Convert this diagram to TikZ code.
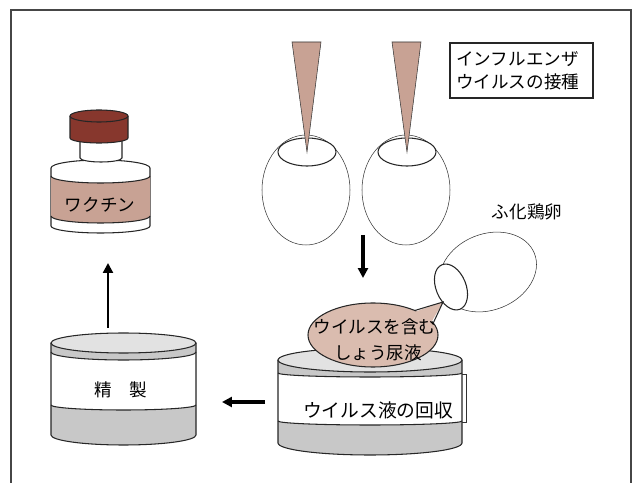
\documentclass[tikz,border=0pt]{standalone}
\usepackage{fontspec}
\setmainfont{Noto Sans CJK JP}
\usetikzlibrary{arrows.meta, calc}

\definecolor{capred}{RGB}{135,55,45}
\definecolor{labeltan}{RGB}{200,162,148}
\definecolor{bubbletan}{RGB}{218,188,175}
\definecolor{drumgray}{RGB}{200,200,200}
\definecolor{lidgray}{RGB}{226,226,226}
\definecolor{framegray}{RGB}{70,70,70}

\begin{document}
\begin{tikzpicture}[x=0.03cm, y=-0.03cm,
    outline/.style={draw=black!85, line width=0.9pt},
    thinline/.style={draw=black!80, line width=0.45pt},
    flow/.style={line width=2.8pt, -{Triangle[length=8.5pt, width=8.5pt]}},
    txt/.style={font=\fontsize{15}{19.5}\selectfont, inner sep=0pt}]

    \useasboundingbox (0,0) rectangle (633,483);
    \draw[framegray, line width=1.3pt] (11,495) -- (11,10) -- (631,10) -- (631,495);

    \coordinate (vial bottom) at (108,263);
    \coordinate (purify top) at (108,328);
    \coordinate (collect left) at (265,402);
    \coordinate (purify right) at (222,402);
    \coordinate (eggs below) at (363,235);
    \coordinate (bubble above) at (363,278);

    % vaccine vial
    \path[fill=white, outline] (51,168) -- (51,226)
        arc[start angle=180, end angle=0, x radius=49.5, y radius=7] -- (150,168);
    \fill[labeltan] (51,176) arc[start angle=180, end angle=0, x radius=49.5, y radius=7]
        -- (150,216) arc[start angle=0, end angle=180, x radius=49.5, y radius=7] -- cycle;
    \draw[outline] (51,176) arc[start angle=180, end angle=0, x radius=49.5, y radius=7];
    \draw[outline] (51,216) arc[start angle=180, end angle=0, x radius=49.5, y radius=7];
    \draw[outline] (51,168) arc[start angle=180, end angle=360, x radius=49.5, y radius=8];
    \path[fill=white, outline] (80,140) -- (80,158)
        arc[start angle=180, end angle=0, x radius=21, y radius=4] -- (122,140);
    \path[fill=capred, outline] (70,116) -- (70,138)
        arc[start angle=180, end angle=0, x radius=29, y radius=5] -- (128,116);
    \draw[outline, fill=capred] (99,116) ellipse[x radius=29, y radius=6];
    \node[txt] (vaccine) at (100,205) {ワクチン};

    % purification drum
    \fill[drumgray] (51,343) -- (51,435)
        arc[start angle=180, end angle=0, x radius=72.5, y radius=10] -- (196,343) -- cycle;
    \fill[white] (51,352) arc[start angle=180, end angle=0, x radius=72.5, y radius=8]
        -- (196,405) arc[start angle=0, end angle=180, x radius=72.5, y radius=5] -- cycle;
    \draw[outline] (51,343) -- (51,435)
        arc[start angle=180, end angle=0, x radius=72.5, y radius=10] -- (196,343);
    \draw[outline] (51,352) arc[start angle=180, end angle=0, x radius=72.5, y radius=8];
    \draw[outline] (51,405) arc[start angle=180, end angle=0, x radius=72.5, y radius=5];
    \draw[outline, fill=lidgray] (123.5,343) ellipse[x radius=72.5, y radius=10];
    \node[txt] (purify) at (121,390) {精　製};

    % collection drum
    \fill[drumgray] (278,360) -- (278,443)
        arc[start angle=180, end angle=0, x radius=92, y radius=12] -- (462,360) -- cycle;
    \fill[white] (278,373) arc[start angle=180, end angle=0, x radius=92, y radius=4]
        -- (462,421) arc[start angle=0, end angle=180, x radius=92, y radius=4] -- cycle;
    \draw[outline] (278,360) -- (278,443)
        arc[start angle=180, end angle=0, x radius=92, y radius=12] -- (462,360);
    \draw[outline] (278,373) arc[start angle=180, end angle=0, x radius=92, y radius=4];
    \draw[outline] (278,421) arc[start angle=180, end angle=0, x radius=92, y radius=4];
    \draw[thinline] (462,374) -- (466,374) -- (466,422) -- (462,422);
    \draw[outline, fill=lidgray] (370,360) ellipse[x radius=92, y radius=12];
    \node[txt, font=\fontsize{16}{19}\selectfont] (collect) at (378,410) {ウイルス液の回収};

    % eggs with pipettes
    \draw[thinline, fill=white] (306,190) ellipse[x radius=44, y radius=55];
    \draw[outline, fill=white] (307,152) ellipse[x radius=29, y radius=14];
    \draw[thinline, fill=white] (406,190) ellipse[x radius=44, y radius=55];
    \draw[outline, fill=white] (407,152) ellipse[x radius=29, y radius=14];
    \filldraw[fill=labeltan, thinline] (292,42) -- (321,42) -- (307,152) -- cycle;
    \filldraw[fill=labeltan, thinline] (392,42) -- (421,42) -- (407,152) -- cycle;

    % hatched egg
    \begin{scope}[shift={(488,272)}, rotate=22]
        \draw[thinline, fill=white] (0,0) ellipse[x radius=50, y radius=38];
    \end{scope}
    \begin{scope}[shift={(451,287)}, rotate=22]
        \draw[outline, fill=white] (0,0) ellipse[x radius=15, y radius=24];
    \end{scope}
    \node[txt] (egg) at (527,212) {ふ化鶏卵};

    % bubble
    \coordinate (tail a) at (414.8,310.5);
    \coordinate (tail b) at (433.3,323);
    \coordinate (tail tip) at (443,302);
    \draw[outline, fill=bubbletan] (373,335) ellipse[x radius=65, y radius=32];
    \fill[bubbletan] ($(tail a)+(-2,2)$) -- (tail tip) -- ($(tail b)+(-3,1)$) -- cycle;
    \draw[outline] (tail a) -- (tail tip) -- (tail b);
    \node[txt] (fluid a) at (375,327) {ウイルスを含む};
    \node[txt] (fluid b) at (378,353) {しょう尿液};

    \draw[outline] (450,43) rectangle (593,98);
    \node[txt, align=left, anchor=west] (inoculation) at (456,71)
        {インフルエンザ\\ウイルスの接種};

    \draw[flow] (eggs below) -- (bubble above);
    \draw[flow] (collect left) -- (purify right);
    \draw[flow, line width=1.9pt] (purify top) -- (vial bottom);
\end{tikzpicture}
\end{document}
